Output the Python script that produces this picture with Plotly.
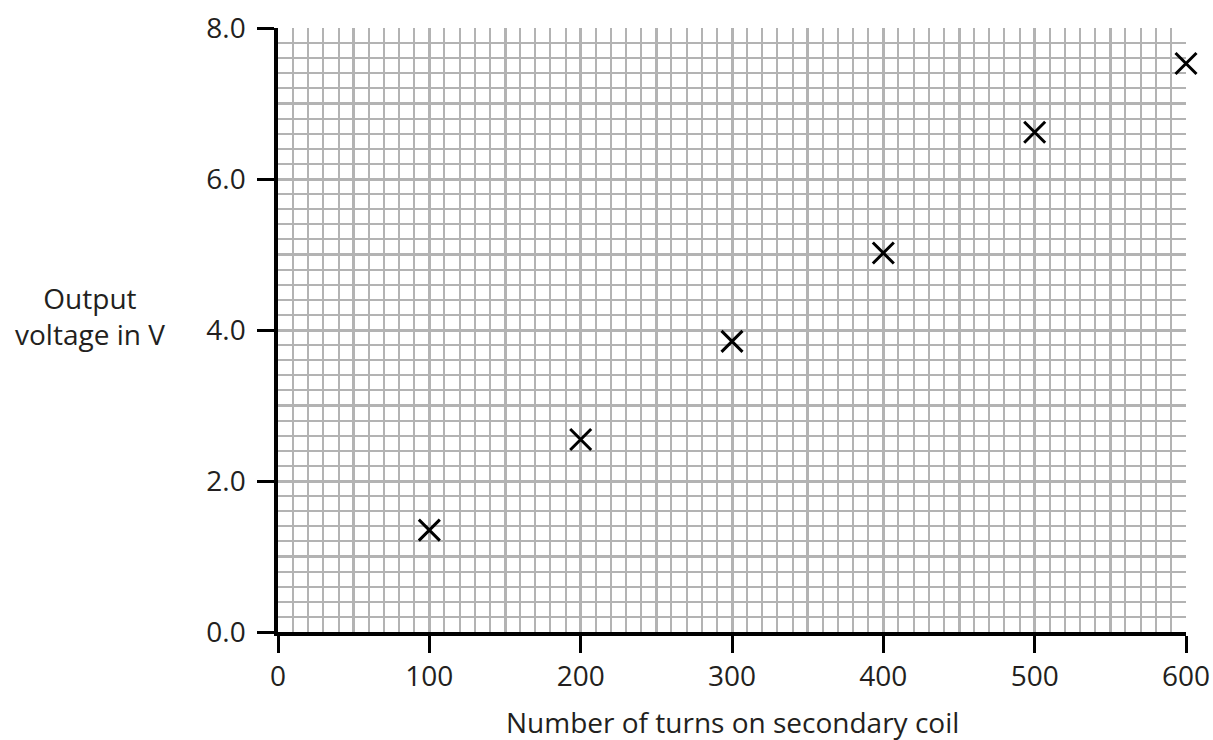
import plotly.graph_objects as go

turns = [100, 200, 300, 400, 500, 600]
voltage = [1.35, 2.55, 3.85, 5.02, 6.62, 7.53]

x_tick_vals = [0, 100, 200, 300, 400, 500, 600]
x_tick_text = ["0", "100", "200", "300", "400", "500", "600"]
y_tick_vals = [0, 2, 4, 6, 8]
y_tick_text = ["0.0", "2.0", "4.0", "6.0", "8.0"]

FONT = "Open Sans"
TXT = "#231f20"
GRID = "#b3b3b3"
FS = 28

fig = go.Figure()
fig.add_trace(go.Scatter(
    x=turns, y=voltage, mode="markers", cliponaxis=False,
    marker=dict(symbol="x-thin", size=21, line=dict(width=3, color="black"), color="black"),
    xaxis="x", yaxis="y", showlegend=False, hoverinfo="x+y",
))
# invisible trace to activate labelled overlay axes
fig.add_trace(go.Scatter(x=[0], y=[0], mode="markers", marker=dict(opacity=0),
                         xaxis="x2", yaxis="y2", showlegend=False, hoverinfo="skip"))

fig.update_layout(
    width=1213, height=740,
    margin=dict(l=278, r=27, t=28, b=108),
    paper_bgcolor="white", plot_bgcolor="white",
    font=dict(family=FONT, color=TXT, size=FS),
    xaxis=dict(range=[0, 600], dtick=50, tick0=0, showgrid=True, gridcolor=GRID, gridwidth=3,
               minor=dict(dtick=10, showgrid=True, gridcolor=GRID, gridwidth=2),
               showticklabels=False, ticks="", zeroline=False, showline=False, automargin=False),
    yaxis=dict(range=[0, 8], dtick=1, tick0=0, showgrid=True, gridcolor=GRID, gridwidth=3,
               minor=dict(dtick=0.2, showgrid=True, gridcolor=GRID, gridwidth=2),
               showticklabels=False, ticks="", zeroline=False, showline=False, automargin=False),
    xaxis2=dict(range=[0, 600], overlaying="x", side="bottom", anchor="y2", automargin=False,
                tickmode="array", tickvals=x_tick_vals, ticktext=x_tick_text,
                ticks="outside", ticklen=17, tickwidth=2.5, tickcolor="black",
                ticklabelstandoff=0, ticklabeloverflow="allow",
                showline=True, linecolor="black", linewidth=3.5, showgrid=False, zeroline=False,
                tickfont=dict(size=FS, color=TXT, family=FONT)),
    yaxis2=dict(range=[0, 8], overlaying="y", side="left", anchor="x2", automargin=False,
                tickmode="array", tickvals=y_tick_vals, ticktext=y_tick_text,
                ticks="outside", ticklen=17, tickwidth=2.5, tickcolor="black",
                ticklabelstandoff=6, ticklabeloverflow="allow",
                showline=True, linecolor="black", linewidth=3.5, showgrid=False, zeroline=False,
                tickfont=dict(size=FS, color=TXT, family=FONT)),
    annotations=[
        dict(text="Output<br>voltage in V", xref="paper", yref="paper",
             x=-0.207, y=0.523, xanchor="center", yanchor="middle", showarrow=False,
             font=dict(size=FS, color=TXT, family=FONT), align="center"),
        dict(text="Number of turns on secondary coil", xref="paper", yref="paper",
             x=0.5, y=-0.149, xanchor="center", yanchor="middle", showarrow=False,
             font=dict(size=FS, color=TXT, family=FONT)),
    ],
)

fig.write_html("out.html", config={"displayModeBar": False},
               post_script="document.body.style.margin='0';document.body.style.overflow='hidden';")
